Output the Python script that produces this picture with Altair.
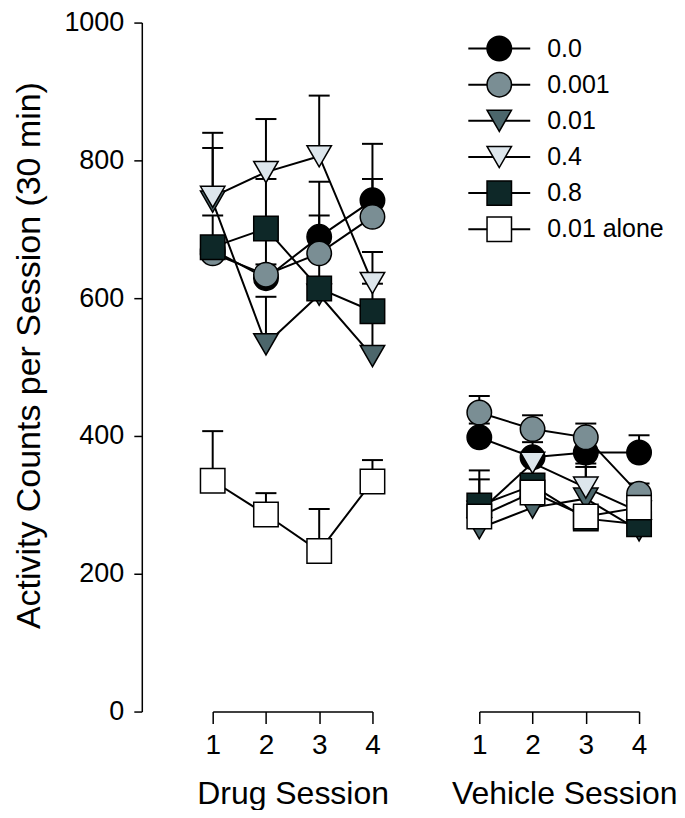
import altair as alt
import pandas as pd

series = ["0.0", "0.001", "0.01", "0.4", "0.8", "0.01 alone"]
sessions = [1, 2, 3, 4]

# Drug sessions: means and SEM (upper error bars)
drug_means = {
    "0.0":        [670, 629, 689, 742],
    "0.001":      [665, 634, 665, 718],
    "0.01":       [740, 533, 605, 516],
    "0.4":        [747, 783, 806, 622],
    "0.8":        [674, 701, 614, 581],
    "0.01 alone": [335, 286, 233, 334],
}
drug_sems = {
    "0.0":        [15, 20, 80, 82],
    "0.001":      [20, 54, 55, 55],
    "0.01":       [78, 69, 10, 55],
    "0.4":        [93, 77, 88, 45],
    "0.8":        [46, 72, 85, 40],
    "0.01 alone": [72, 31, 61, 31],
}

# Vehicle sessions
veh_means = {
    "0.0":        [398, 369, 376, 376],
    "0.001":      [434, 410, 398, 316],
    "0.01":       [266, 296, 309, 263],
    "0.4":        [290, 361, 325, 290],
    "0.8":        [299, 328, 280, 272],
    "0.01 alone": [283, 318, 283, 296],
}
veh_sems = {
    "0.0":        [20, 22, 20, 25],
    "0.001":      [24, 20, 20, 15],
    "0.01":       [20, 15, 46, 15],
    "0.4":        [20, 15, 35, 15],
    "0.8":        [51, 15, 15, 15],
    "0.01 alone": [54, 15, 15, 15],
}

y_ticks = [0, 200, 400, 600, 800, 1000]

fills = ["#000000", "#7a8e94", "#4c666b", "#dde6ec", "#0e2828", "#ffffff"]
shapes = ["circle", "circle", "triangle-down", "triangle-down", "square", "square"]
sizes = [600, 600, 840, 840, 540, 540]

FONT = "Liberation Sans"


def make_df(means, sems):
    rows = []
    for s in series:
        for i, sess in enumerate(sessions):
            m = means[s][i]
            rows.append({"series": s, "session": sess, "mean": m,
                         "top": m + sems[s][i]})
    return pd.DataFrame(rows)


shape_enc = alt.Shape("series:N", scale=alt.Scale(domain=series, range=shapes), legend=None)
fill_enc = alt.Fill("series:N", scale=alt.Scale(domain=series, range=fills), legend=None)
size_enc = alt.Size("series:N", scale=alt.Scale(domain=series, range=sizes), legend=None)

YTITLE = "Activity Counts per Session (30 min)"
W, H = 160, 690


def panel(df, xtitle, show_y, title_x):
    xs = alt.Scale(domain=[1, 4], nice=False, zero=False)
    ys = alt.Scale(domain=[0, 1000], nice=False, zero=True)
    xaxis = alt.Axis(values=sessions, format="d", title=xtitle, tickSize=12,
                     labelFontSize=28, titleFontSize=32, labelPadding=8,
                     titlePadding=19, titleX=title_x, labelFlush=False, grid=False)
    if show_y:
        yaxis = alt.Axis(values=y_ticks, format="d", title=YTITLE, offset=71, tickSize=8,
                         labelFontSize=27, titleFontSize=34, labelPadding=10,
                         titlePadding=17, titleY=H / 2 - 12, labelFlush=False, grid=False)
    else:
        yaxis = None
    x = alt.X("session:Q", scale=xs, axis=xaxis)
    y = alt.Y("mean:Q", scale=ys, axis=yaxis, title=YTITLE)
    ytop = alt.Y("top:Q", scale=ys, axis=yaxis, title=YTITLE)
    base = alt.Chart(df)
    err = base.mark_rule(color="black", strokeWidth=2).encode(x=x, y=y, y2="top:Q")
    cap = base.mark_rule(color="black", strokeWidth=2, xOffset=-10.5, x2Offset=10.5).encode(
        x=x, x2="session:Q", y=ytop)
    line = base.mark_line(color="black", strokeWidth=2).encode(
        x=x, y=y, detail="series:N", order="session:Q")
    pts = base.mark_point(filled=True, opacity=1, stroke="black", strokeWidth=1.5).encode(
        x=x, y=y, shape=shape_enc, fill=fill_enc, size=size_enc)
    return alt.layer(err, cap, line, pts)


left = panel(make_df(drug_means, drug_sems), "Drug Session", True, W / 2).properties(
    width=W, height=H)

legend_df = pd.DataFrame({"series": series})
ly = alt.Y("series:N", scale=alt.Scale(type="point", domain=series, range=[26, 207], padding=0),
           axis=None)
lbase = alt.Chart(legend_df)
lrule = lbase.mark_rule(color="black", strokeWidth=2).encode(
    x=alt.value(-11), x2=alt.value(51), y=ly)
lpts = lbase.mark_point(filled=True, opacity=1, stroke="black", strokeWidth=1.5).encode(
    x=alt.value(20), y=ly, shape=shape_enc, fill=fill_enc, size=size_enc)
ltext = lbase.mark_text(align="left", baseline="middle", fontSize=25, font=FONT,
                        color="black").encode(x=alt.value(68), y=ly, text="series:N")
legend_layer = alt.layer(lrule, lpts, ltext)

right = alt.layer(panel(make_df(veh_means, veh_sems), "Vehicle Session", False, W / 2 + 5),
                  legend_layer).resolve_scale(y="independent").properties(width=W, height=H)

chart = alt.hconcat(left, right, spacing=107, bounds="flush").properties(
    padding={"left": 4, "top": 0, "right": 0, "bottom": 0}
).configure_view(stroke=None).configure_axis(
    domainColor="black", tickColor="black", domainWidth=1.5, tickWidth=1.5,
    labelColor="black", titleColor="black", labelFont=FONT, titleFont=FONT,
    titleFontWeight="normal"
).configure_text(font=FONT)

chart.save("out.html", embed_options={"renderer": "svg", "actions": False})
